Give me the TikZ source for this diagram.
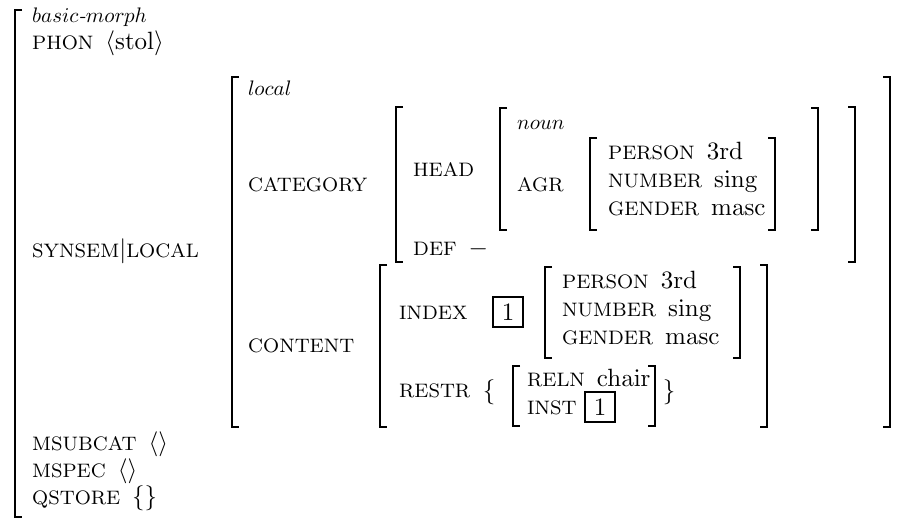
\RequirePackage{fix-cm}
\documentclass[tikz,border=0pt]{standalone}
\renewcommand{\encodingdefault}{OT1}
\renewcommand{\rmdefault}{cmr}
% fonts of the matrix: roman values, italic types, feature names in small capitals
\font\rmf=cmr10 at 25pt
\font\mif=cmmi10 at 21pt
\font\itf=cmti10 at 21pt
\font\kf=cmr8 at 19.5pt
\begin{document}
\fontencoding{OT1}\fontfamily{cmr}\fontsize{25}{30}\selectfont
\begin{tikzpicture}[x=1pt,y=-1pt,
  br/.style={line width=1.6pt},
  txt/.style={anchor=base west, inner sep=0pt, font=\rmf},
  brace/.style={anchor=center, inner sep=0pt},
  tagbox/.style={draw, line width=1.4pt, minimum width=30pt, minimum height=30pt, inner sep=0pt, font=\rmf}]
\useasboundingbox (0,0) rectangle (909,520);
% square brackets: x, top, bottom
\newcommand\avmL[3]{\draw[br] (#1+7,#2) -- (#1,#2) -- (#1,#3) -- (#1+7,#3);}
\newcommand\avmR[3]{\draw[br] (#1-7,#2) -- (#1,#2) -- (#1,#3) -- (#1-7,#3);}
\newcommand\K[1]{{\kf #1}}
\newcommand\kv[2]{{\kf #1}\hspace{12pt}#2}

% outermost structure
\avmL{15}{10}{517}
\node[txt] (type)    at (32,22)  {{\mif basic}{\itf -}{\mif morph}};
\node[txt] (phon)    at (32,49)  {\kv{PHON}{$\langle$stol$\rangle$}};
\node[txt] (synsem)  at (32,257) {\K{SYNSEM}$|$\K{LOCAL}};
\node[txt] (msubcat) at (32,450) {\kv{MSUBCAT}{$\langle\rangle$}};
\node[txt] (mspec)   at (32,477) {\kv{MSPEC}{$\langle\rangle$}};
\node[txt] (qstore)  at (32,504) {\kv{QSTORE}{$\{\}$}};

% local
\avmL{232}{77}{427}
\avmR{890}{77}{427}
\node[txt] (local)    at (248,95)  {\mif local};
\node[txt] (category) at (248,191) {\K{CATEGORY}};
\node[txt] (content)  at (248,352) {\K{CONTENT}};

% category
\avmL{396}{107}{262}
\avmR{855}{107}{262}
\node[txt] (head) at (413,176) {\K{HEAD}};
\node[txt] (def)  at (413,255) {\kv{DEF}{$-$}};

% head value
\avmL{500}{108}{230}
\avmR{818}{108}{230}
\node[txt] (noun) at (517,129) {\mif noun};
\node[txt] (agr)  at (517,191) {\K{AGR}};

% agreement
\avmL{590}{138}{230}
\avmR{775}{138}{230}
\node[txt] (pers1) at (608,159) {\kv{PERSON}{3rd}};
\node[txt] (num1)  at (608,187) {\kv{NUMBER}{sing}};
\node[txt] (gen1)  at (608,215) {\kv{GENDER}{masc}};

% content
\avmL{380}{265}{427}
\avmR{767}{265}{427}
\node[txt] (index) at (399,319) {\K{INDEX}};
\node[tagbox] (tag1) at (508,312) {1};
\avmL{545}{267}{358}
\avmR{740}{267}{358}
\node[txt] (pers2) at (562,288) {\kv{PERSON}{3rd}};
\node[txt] (num2)  at (562,316) {\kv{NUMBER}{sing}};
\node[txt] (gen2)  at (562,344) {\kv{GENDER}{masc}};

\node[txt] (restr) at (399,397) {\K{RESTR}};
\node[brace] (lbrace) at (489,392) {$\Big\{$};
\avmL{513}{366}{426}
\avmR{655}{366}{426}
\node[txt] (reln) at (527,386) {\kv{RELN}{chair}};
\node[txt] (inst) at (527,414) {\K{INST}};
\node[tagbox] (tag2) at (600,407) {1};
\node[brace] (rbrace) at (669,392) {$\Big\}$};
\end{tikzpicture}
\end{document}
